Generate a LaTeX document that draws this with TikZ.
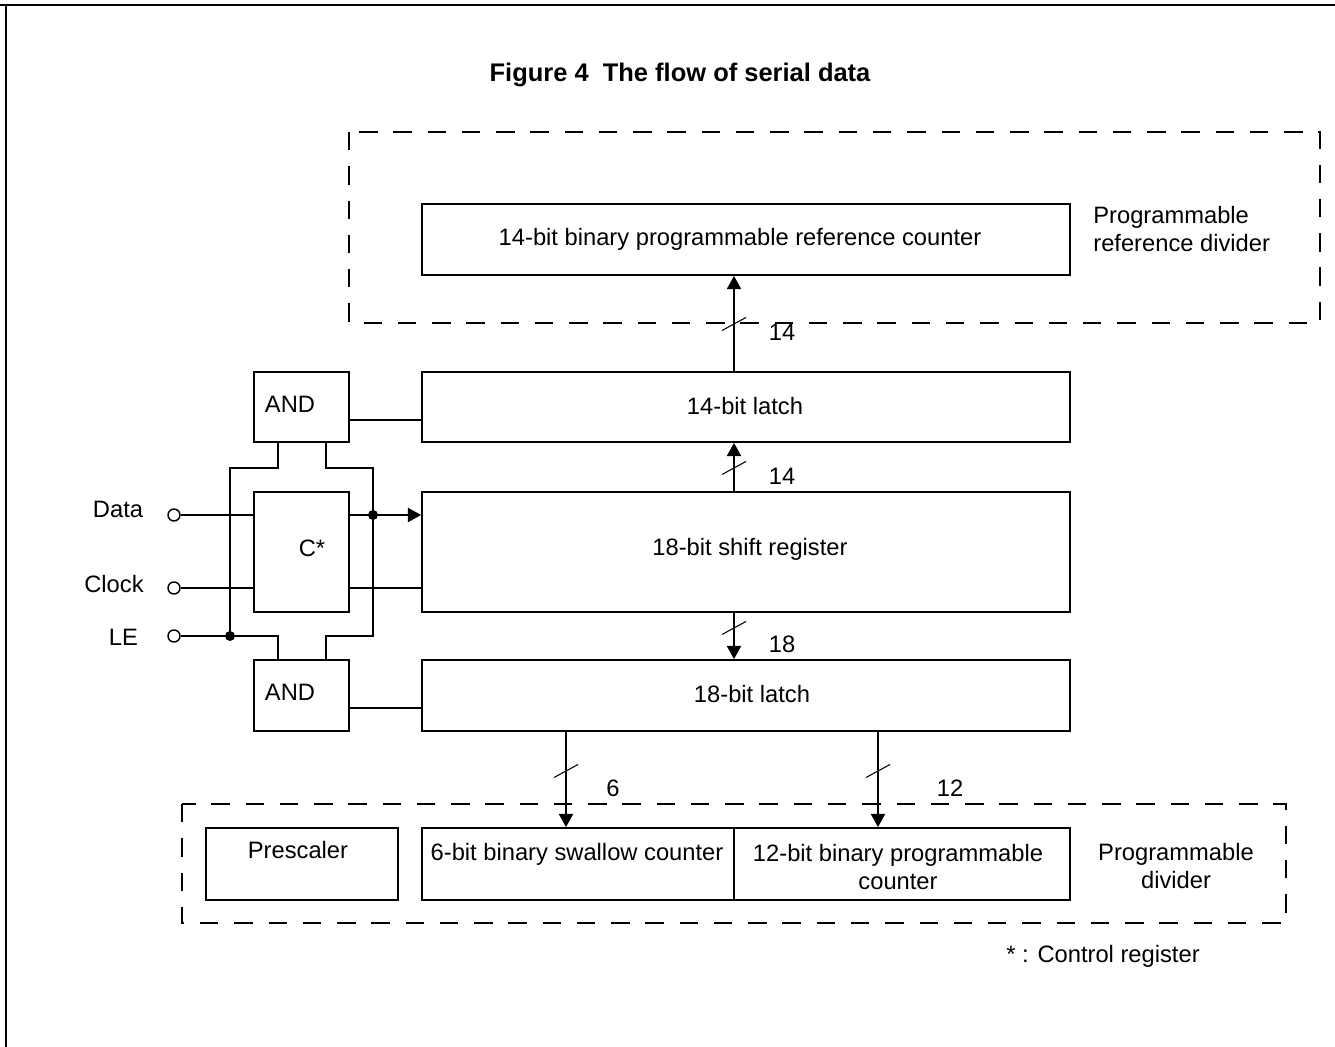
\documentclass[tikz,border=0pt]{standalone}
\usepackage{fontspec}
\setmainfont{Liberation Sans}
\usetikzlibrary{arrows.meta}

\begin{document}
\begin{tikzpicture}
[x=0.02cm,y=-0.02cm,
  boxDecorate/.style={shape=rectangle,draw,line width=1pt,inner sep=0pt},%
  lineDecorate/.style={-,line width=1pt},%
  arrowDecorate/.style={-{Triangle[length=7.5pt,width=8pt]},line width=1pt},%
  groupDecorate/.style={line width=1pt,dash pattern=on 10.5pt off 9pt},%
  busDecorate/.style={-,line width=0.6pt},%
  frameDecorate/.style={-,line width=1.5pt},%
  termDecorate/.style={shape=circle,draw,line width=0.8pt,fill=white,inner sep=0pt,minimum size=0.24cm},%
  dotDecorate/.style={shape=circle,fill,inner sep=0pt,minimum size=0.2cm},%
  textDecorate/.style={font=\fontsize{13.5}{16}\selectfont,inner sep=0pt,align=center}]
\useasboundingbox (0,0) rectangle (1335,1047);
%% page frame and title
\draw[frameDecorate] (0,5) -- (1335,5) (6,5) -- (6,1047);
\node (title) at (680,75) [textDecorate,font=\fontsize{14.5}{17}\selectfont\bfseries] {Figure 4\ \ The flow of serial data};
%% groups
\draw[groupDecorate] (349,132) rectangle (1320,323);
\draw[groupDecorate] (182,804) rectangle (1286,923);
%% blocks
\foreach \nodename/\x/\y/\w/\h in {
  refcnt/746/239.5/648/71, latchA/746/407/648/70, shreg/746/552/648/120,
  latchB/746/695.5/648/71, andA/301.5/407/95/70, ctl/301.5/552/95/120,
  andB/301.5/695.5/95/71, presc/302/864/192/72, swallow/578/864/312/72,
  progcnt/902/864/336/72}
{
  \node (\nodename) at (\x,\y) [boxDecorate,minimum width=\w*0.02cm,minimum height=\h*0.02cm] {};
}
%% texts
\foreach \nodename/\x/\y/\txt in {
  refcntT/740/239/14-bit binary programmable reference counter,
  latchAT/745/406/14-bit latch, shregT/750/549/18-bit shift register,
  latchBT/752/694/18-bit latch, andAT/290/404/AND, andBT/290/692/AND,
  ctlT/312/548/C*, prescT/298/850/Prescaler,
  swallowT/577/854/6-bit binary swallow counter,
  progcntT/898/867/{12-bit binary programmable\\counter},
  progdivT/1176/866/{Programmable\\divider},
  noteT/1103/956/* : Control register,
  w14a/782/332/14, w14b/782/476/14, w18/782/644/18, w6/613/788/6, w12/950/788/12}
{
  \node (\nodename) at (\x,\y) [textDecorate] {\txt};
}
\node (refdivT) at (1093,229) [textDecorate,anchor=west,align=left] {Programmable\\reference divider};
%% inputs
\foreach \nodename/\txt/\x/\y/\ty in {data/Data/118/515/509, clock/Clock/114/588/584, le/LE/123.5/636/637}
{
  \node (\nodename) at (174,\y) [termDecorate] {};
  \node (\nodename T) at (\x,\ty) [textDecorate] {\txt};
}
%% wiring
\coordinate (busX) at (734,0);
\coordinate (busS) at (566,0);
\coordinate (busP) at (878,0);
\coordinate (legL) at (278,0);
\coordinate (legR) at (326,0);
\coordinate (railL) at (230,0);
\coordinate (railR) at (373,0);
\coordinate (bendA) at (0,468);
\coordinate (bendB) at (0,636);
\coordinate (gateA) at (0,420);
\coordinate (gateB) at (0,708);
\node (jLE) [dotDecorate] at (railL |- le) {};
\node (jC) [dotDecorate] at (railR |- data) {};
\draw[lineDecorate] (andA.south -| legL) |- (bendA -| railL) -- (jLE.center);
\draw[lineDecorate] (andA.south -| legR) |- (bendA -| railR) -- (bendB -| railR) -| (andB.north -| legR);
\draw[lineDecorate] (le.east) -- (jLE.center) -| (andB.north -| legL);
\draw[lineDecorate] (data.east) -- (data -| ctl.west);
\draw[lineDecorate] (clock.east) -- (clock -| ctl.west);
\draw[arrowDecorate] (data -| ctl.east) -- (data -| shreg.west);
\draw[lineDecorate] (clock -| ctl.east) -- (clock -| shreg.west);
\draw[lineDecorate] (andA.east |- gateA) -- (latchA.west |- gateA);
\draw[lineDecorate] (andB.east |- gateB) -- (latchB.west |- gateB);
%% buses
\draw[arrowDecorate] (latchA.north -| busX) -- (refcnt.south -| busX);
\draw[arrowDecorate] (shreg.north -| busX) -- (latchA.south -| busX);
\draw[arrowDecorate] (shreg.south -| busX) -- (latchB.north -| busX);
\draw[arrowDecorate] (latchB.south -| busS) -- (swallow.north -| busS);
\draw[arrowDecorate] (latchB.south -| busP) -- (progcnt.north -| busP);
\foreach \x/\y in {734/324, 734/468, 734/628, 566/771, 878/771}
{
  \draw[busDecorate] (\x-12,\y+6.5) -- (\x+12,\y-6.5);
}
\end{tikzpicture}
\end{document}
